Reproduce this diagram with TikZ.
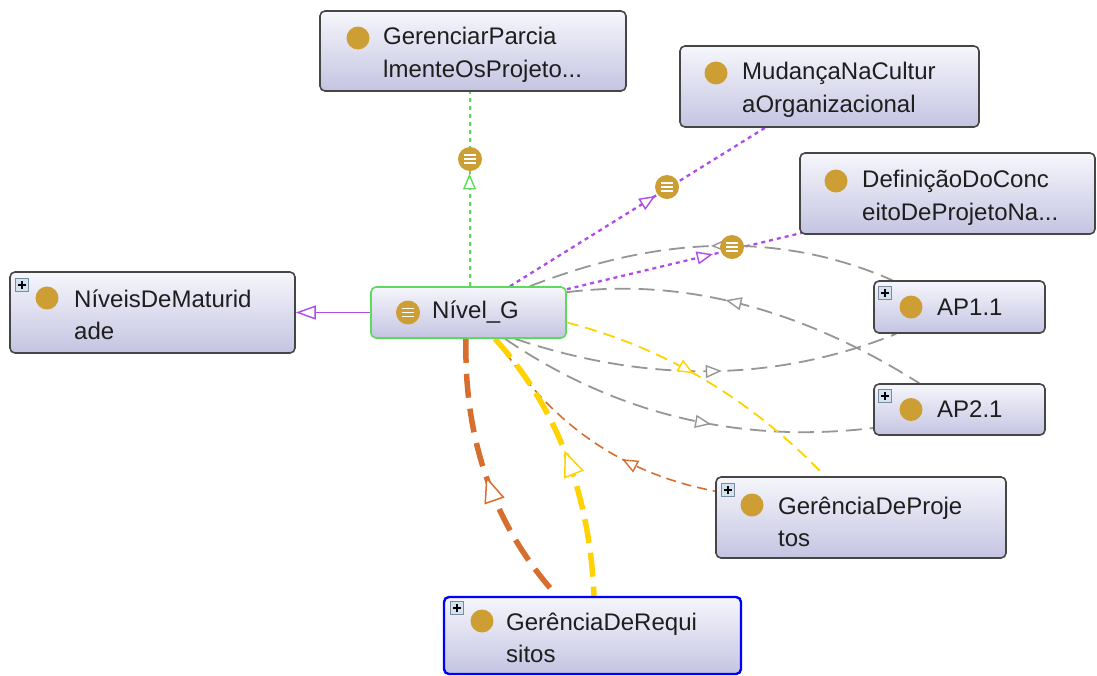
\documentclass[tikz,border=0pt]{standalone}
\usepackage{fontspec}
\setmainfont{Liberation Sans}
\usetikzlibrary{arrows.meta,decorations.markings,calc}
\pgfdeclarelayer{bgl}
\pgfdeclarelayer{edges}
\pgfsetlayers{bgl,edges,main}
\definecolor{gold}{RGB}{205,158,52}
\definecolor{boxborder}{RGB}{70,70,70}
\definecolor{boxtop}{RGB}{246,246,252}
\definecolor{boxbot}{RGB}{196,196,226}
\definecolor{grn}{RGB}{90,220,90}
\definecolor{purp}{RGB}{175,75,235}
\definecolor{gry}{RGB}{150,150,150}
\definecolor{yel}{RGB}{255,210,0}
\definecolor{org}{RGB}{215,110,45}
\definecolor{txt}{RGB}{30,30,30}
\definecolor{plusfill}{RGB}{212,226,240}
\definecolor{plusborder}{RGB}{120,140,160}
\tikzset{
  cls/.style={draw=boxborder, line width=1.6pt, rounded corners=5pt, top color=boxtop, bottom color=boxbot, inner sep=0pt},
  lbl/.style={anchor=west, align=left, font=\fontsize{24}{32.5}\selectfont, inner sep=0pt, text=txt},
  gdot/.style={circle, fill=gold, minimum size=23pt, inner sep=0pt},
  plusbox/.style={draw=plusborder, fill=plusfill, minimum size=13pt, inner sep=0pt, line width=0.7pt,
    path picture={\draw[black, line width=1.3pt] ([xshift=-4pt]path picture bounding box.center) -- ([xshift=4pt]path picture bounding box.center);
      \draw[black, line width=1.3pt] ([yshift=-4pt]path picture bounding box.center) -- ([yshift=4pt]path picture bounding box.center);}},
  eicon/.style={circle, fill=gold, minimum size=24pt, inner sep=0pt,
    path picture={\foreach \d in {-4,0,4}{\draw[white, line width=1.4pt] ([xshift=-6pt,yshift=\d pt]path picture bounding box.center) -- ([xshift=6pt,yshift=\d pt]path picture bounding box.center);}}},
  tsm/.tip={Triangle[fill=white,length=16pt,width=13pt,line width=1.4pt]},
  tbg/.tip={Triangle[fill=white,length=26pt,width=21pt,line width=1.5pt]},
  tfw/.style={postaction={decorate,decoration={markings,mark=at position #1 with {\arrow{tsm}}}}},
  tbw/.style={postaction={decorate,decoration={markings,mark=at position #1 with {\arrowreversed{tsm}}}}},
  tbwbig/.style={postaction={decorate,decoration={markings,mark=at position #1 with {\arrowreversed{tbg}}}}},
  grayedge/.style={draw=gry, line width=1.8pt, dash pattern=on 16pt off 8pt},
  greenedge/.style={draw=grn, line width=2pt, dash pattern=on 4pt off 4pt},
  purpedge/.style={draw=purp, line width=2.3pt, dash pattern=on 4pt off 4pt},
  yeledge/.style={draw=yel, line width=1.8pt, dash pattern=on 12pt off 7pt},
  orgedge/.style={draw=org, line width=1.6pt, dash pattern=on 10pt off 6pt},
  thickorg/.style={draw=org, line width=5.5pt, dash pattern=on 24pt off 11pt},
  thickyel/.style={draw=yel, line width=5.5pt, dash pattern=on 24pt off 10pt},
}
\begin{document}
\begin{tikzpicture}[x=1pt,y=-1pt]
\begin{pgfonlayer}{bgl}
\fill[white] (0,0) rectangle (1097,675);
\end{pgfonlayer}
\useasboundingbox (0,0) rectangle (1097,675);

% boxes
\node[cls, minimum width=306pt, minimum height=80pt] (gpp) at (473,51) {};
\node[cls, minimum width=299pt, minimum height=81pt] (mud) at (829.5,86.5) {};
\node[cls, minimum width=295pt, minimum height=81pt] (def) at (947.5,193.5) {};
\node[cls, minimum width=285pt, minimum height=81pt] (nm) at (152.5,312.5) {};
\node[cls, draw=grn, minimum width=195pt, minimum height=51pt] (nivel) at (468.5,312.5) {};
\node[cls, minimum width=171pt, minimum height=52pt] (ap1) at (959.5,307) {};
\node[cls, minimum width=171pt, minimum height=51pt] (ap2) at (959.5,409.5) {};
\node[cls, minimum width=290pt, minimum height=81pt] (gp) at (861,517.5) {};
\node[cls, draw=blue, line width=2.4pt, minimum width=297pt, minimum height=77pt] (gr) at (592.5,635.5) {};

% dots, plus icons, labels
\node[gdot] (gpp-d) at (358,38) {};
\node[lbl] (gpp-t) at (383,55) {GerenciarParcia\\lmenteOsProjeto...};
\node[gdot] (mud-d) at (716,73) {};
\node[lbl] (mud-t) at (742,90) {MudançaNaCultur\\aOrganizacional};
\node[gdot] (def-d) at (836,181) {};
\node[lbl] (def-t) at (862,198) {DefiniçãoDoConc\\eitoDeProjetoNa...};
\node[plusbox] (nm-p) at (22,285) {};
\node[gdot] (nm-d) at (47,298) {};
\node[lbl] (nm-t) at (74,315) {NíveisDeMaturid\\ade};
\node[eicon] (nivel-i) at (408,312.5) {};
\node[lbl] (nivel-t) at (432,312.5) {Nível\_G};
\node[plusbox] (ap1-p) at (885,293) {};
\node[gdot] (ap1-d) at (911,307) {};
\node[lbl] (ap1-t) at (937,307) {AP1.1};
\node[plusbox] (ap2-p) at (885,396) {};
\node[gdot] (ap2-d) at (911,409.5) {};
\node[lbl] (ap2-t) at (937,409.5) {AP2.1};
\node[plusbox] (gp-p) at (728,490) {};
\node[gdot] (gp-d) at (752,505) {};
\node[lbl] (gp-t) at (778,522) {GerênciaDeProje\\tos};
\node[plusbox] (gr-p) at (457,608) {};
\node[gdot] (gr-d) at (482,621) {};
\node[lbl] (gr-t) at (506,638) {GerênciaDeRequi\\sitos};

% edge icons
\node[eicon] (e1-i) at (470,159) {};
\node[eicon] (e2-i) at (667,187) {};
\node[eicon] (e3-i) at (732,247) {};

\begin{pgfonlayer}{edges}
% green subclass edge
\draw[greenedge, tfw=0.58] ([xshift=1pt]nivel.north) -- ([xshift=-3.5pt]gpp.south);
% purple edges
\draw[purpedge, tfw=0.57] ([xshift=41.5pt]nivel.north) -- ([xshift=-64.5pt]mud.south);
\draw[purpedge, tfw=0.62] ([yshift=-3pt]nivel.north east) -- ([xshift=3pt,yshift=2pt]def.south west);
\draw[draw=purp, line width=1.5pt, -{Triangle[fill=white,length=20pt,width=14pt,line width=1.4pt]}] (nivel.west) -- (nm.east);
% gray edges
\draw[grayedge, tbw=0.5] ([xshift=61.5pt]nivel.north) .. controls (662.3,234.3) and (783.3,232.3) .. ([xshift=19pt]ap1.north west);
\draw[grayedge, tbw=0.43] ([yshift=-6pt]nivel.north east) .. controls (682,277.7) and (800,308) .. ([xshift=46pt]ap2.north west);
\draw[grayedge, tfw=0.54] ([xshift=46.5pt]nivel.south) .. controls (648.7,383.7) and (776,382) .. ([xshift=23pt]ap1.south west);
\draw[grayedge, tfw=0.58] ([xshift=36.5pt]nivel.south) .. controls (615.3,414) and (738.3,444) .. ([yshift=-18.5pt]ap2.west);
% yellow / orange thin
\draw[yeledge, tfw=0.45] ([yshift=-10pt]nivel.east) .. controls (665,347.8) and (751.3,399.3) .. ([xshift=-36pt]gp.north);
\draw[orgedge, tbw=0.64] ([xshift=28.5pt]nivel.south) .. controls (548,422) and (621,473.3) .. ([yshift=-15pt]gp.north west);
% thick edges to GerenciaDeRequisitos
\draw[thickorg, tbwbig=0.5] ([xshift=-2.5pt]nivel.south) .. controls (463.7,440) and (494,526) .. ([xshift=-35.5pt]gr.north);
\draw[thickyel, tbwbig=0.47] ([xshift=26.5pt]nivel.south) .. controls (556.7,407.3) and (589.7,493.3) .. ([xshift=1.5pt]gr.north);
\end{pgfonlayer}
\end{tikzpicture}
\end{document}
